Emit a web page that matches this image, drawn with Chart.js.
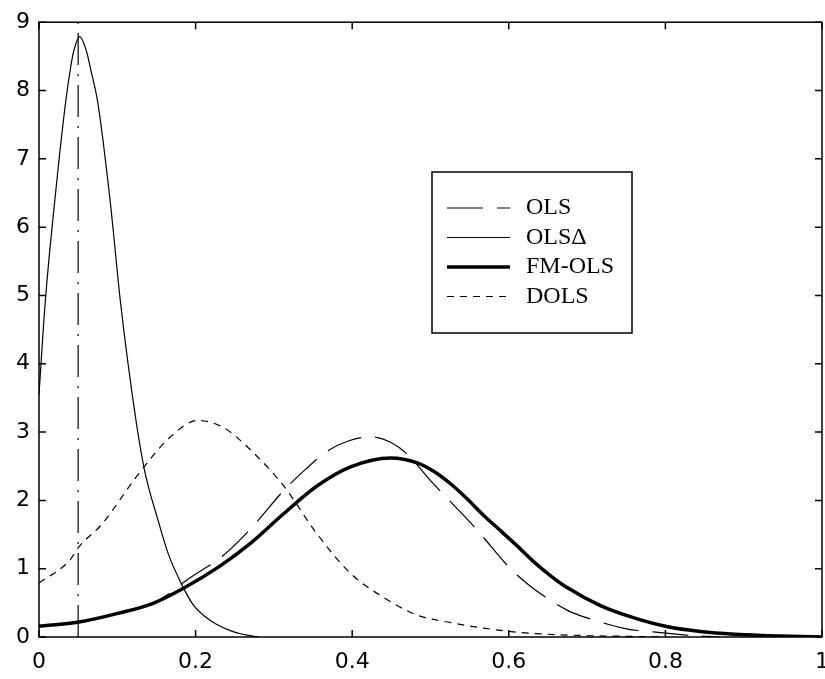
<!DOCTYPE html>
<html lang="en">
<head>
<meta charset="UTF-8">
<title>OLS, OLSΔ, FM-OLS and DOLS densities</title>
<style>
    html, body { margin: 0; padding: 0; background: #fff; }
    #wrap { width: 825px; height: 679px; }
</style>
</head>
<body>
<div id="wrap"><canvas id="densityChart"></canvas></div>

<script src="https://cdn.jsdelivr.net/npm/chart.js"></script>
<script>
    // values
    const olsX = [0, 0.05, 0.1, 0.15, 0.192, 0.235, 0.27, 0.313, 0.34, 0.368, 0.395, 0.423, 0.449, 0.47, 0.5, 0.534, 0.56, 0.602, 0.628, 0.653, 0.675, 0.7, 0.75, 0.78, 0.824, 0.87];
    const olsY = [0.16, 0.22, 0.35, 0.52, 0.86, 1.19, 1.58, 2.15, 2.45, 2.72, 2.87, 2.93, 2.85, 2.68, 2.29, 1.88, 1.56, 1.0, 0.74, 0.54, 0.39, 0.28, 0.12, 0.08, 0.03, 0.0];

    const olsDeltaX = [0, 0.008, 0.02, 0.034, 0.04, 0.044, 0.052, 0.061, 0.066, 0.075, 0.091, 0.104, 0.124, 0.135, 0.152, 0.165, 0.184, 0.197, 0.212, 0.226, 0.245, 0.26, 0.28];
    const olsDeltaY = [3.55, 4.91, 6.37, 7.83, 8.31, 8.56, 8.79, 8.56, 8.31, 7.83, 6.37, 4.91, 3.16, 2.43, 1.71, 1.22, 0.73, 0.47, 0.3, 0.19, 0.09, 0.04, 0.0];

    const fmolsX = [0, 0.051, 0.102, 0.145, 0.184, 0.23, 0.27, 0.312, 0.355, 0.398, 0.449, 0.483, 0.505, 0.526, 0.547, 0.568, 0.59, 0.611, 0.632, 0.653, 0.675, 0.717, 0.76, 0.803, 0.845, 0.888, 0.93, 0.96, 1.0];
    const fmolsY = [0.16, 0.22, 0.35, 0.49, 0.71, 1.03, 1.37, 1.8, 2.21, 2.49, 2.62, 2.55, 2.42, 2.24, 2.02, 1.78, 1.55, 1.33, 1.1, 0.9, 0.72, 0.46, 0.28, 0.15, 0.08, 0.04, 0.02, 0.01, 0.0];

    const dolsX = [0, 0.039, 0.051, 0.081, 0.124, 0.167, 0.203, 0.235, 0.27, 0.312, 0.355, 0.398, 0.44, 0.483, 0.526, 0.568, 0.611, 0.65, 0.7, 0.75, 0.8];
    const dolsY = [0.79, 1.12, 1.32, 1.66, 2.34, 2.92, 3.17, 3.07, 2.74, 2.22, 1.51, 0.93, 0.58, 0.32, 0.21, 0.13, 0.07, 0.04, 0.02, 0.01, 0.0];

    const markerX = 0.05;          // dash-dot vertical line
    const markerY = [0, 9];

    const labels = ['OLS', 'OLSΔ', 'FM-OLS', 'DOLS'];
    const xTicks = [0, 0.2, 0.4, 0.6, 0.8, 1];
    const yTicks = [0, 1, 2, 3, 4, 5, 6, 7, 8, 9];

    function pairs(xs, ys) {
        return xs.map((x, i) => ({ x: x, y: ys[i] }));
    }

    function curve(label, xs, ys, width, dash) {
        return {
            label: label,
            data: pairs(xs, ys),
            borderColor: '#000',
            borderWidth: width,
            borderDash: dash,
            pointRadius: 0,
            fill: false,
            tension: 0.4,
            cubicInterpolationMode: 'monotone'
        };
    }

    // box frame plus inward tick marks on all four sides
    const framePlugin = {
        id: 'frame',
        afterDatasetsDraw(chart) {
            const { ctx, chartArea: a, scales: { x, y } } = chart;
            ctx.save();
            ctx.strokeStyle = '#000';
            ctx.lineWidth = 1.5;
            ctx.setLineDash([]);
            ctx.strokeRect(a.left, a.top, a.right - a.left, a.bottom - a.top);
            ctx.beginPath();
            x.ticks.forEach(t => {
                const px = x.getPixelForValue(t.value);
                ctx.moveTo(px, a.bottom); ctx.lineTo(px, a.bottom - 7);
                ctx.moveTo(px, a.top); ctx.lineTo(px, a.top + 7);
            });
            y.ticks.forEach(t => {
                const py = y.getPixelForValue(t.value);
                ctx.moveTo(a.left, py); ctx.lineTo(a.left + 7, py);
                ctx.moveTo(a.right, py); ctx.lineTo(a.right - 7, py);
            });
            ctx.stroke();
            ctx.restore();
        }
    };

    // boxed legend like the original
    const legendBox = {
        id: 'legendBox',
        afterDraw(chart) {
            const ctx = chart.ctx;
            const items = chart.data.datasets.filter(d => d.label);
            const left = 432, top = 172, width = 200, height = 161;
            const textX = 526, rowH = 29.5;
            ctx.save();
            ctx.fillStyle = '#fff';
            ctx.fillRect(left, top, width, height);
            ctx.strokeStyle = '#000';
            ctx.lineWidth = 1.5;
            ctx.strokeRect(left, top, width, height);
            ctx.font = '24px "Liberation Serif"';
            items.forEach((d, i) => {
                const yy = top + 36 + i * rowH;
                ctx.beginPath();
                ctx.setLineDash(d.borderDash || []);
                ctx.lineWidth = d.borderWidth;
                ctx.moveTo(447, yy);
                ctx.lineTo(510, yy);
                ctx.stroke();
                ctx.setLineDash([]);
                ctx.fillStyle = '#000';
                ctx.textBaseline = 'middle';
                ctx.fillText(d.label, textX, yy);
            });
            ctx.restore();
        }
    };

    const ctx = document.getElementById('densityChart').getContext('2d');
    new Chart(ctx, {
        type: 'line',
        data: {
            datasets: [
                curve(labels[0], olsX, olsY, 1.2, [36, 14]),
                curve(labels[1], olsDeltaX, olsDeltaY, 1.2, []),
                curve(labels[2], fmolsX, fmolsY, 3.5, []),
                curve(labels[3], dolsX, dolsY, 1.2, [7, 6]),
                {
                    label: '',
                    data: markerY.map(v => ({ x: markerX, y: v })),
                    borderColor: '#000',
                    borderWidth: 1.2,
                    borderDash: [32, 9, 2, 9],
                    pointRadius: 0,
                    tension: 0
                }
            ]
        },
        options: {
            responsive: true,
            maintainAspectRatio: false,
            animation: false,
            layout: { padding: { top: 20, right: 3, left: 0, bottom: 0 } },
            plugins: {
                legend: { display: false },
                tooltip: { enabled: false }
            },
            scales: {
                x: {
                    type: 'linear',
                    min: 0,
                    max: 1,
                    grid: { display: false, drawTicks: false },
                    border: { display: false },
                    afterBuildTicks: s => { s.ticks = xTicks.map(v => ({ value: v })); },
                    afterFit: s => { s.height = 42; s.paddingLeft = 0; s.paddingRight = 0; },
                    ticks: {
                        padding: 12,
                        maxRotation: 0,
                        color: '#000',
                        font: { family: 'DejaVu Sans', size: 22 },
                        callback: v => String(+v.toFixed(1))
                    }
                },
                y: {
                    min: 0,
                    max: 9,
                    grid: { display: false, drawTicks: false },
                    border: { display: false },
                    afterBuildTicks: s => { s.ticks = yTicks.map(v => ({ value: v })); },
                    afterFit: s => { s.width = 39; },
                    ticks: {
                        padding: 9,
                        color: '#000',
                        font: { family: 'DejaVu Sans', size: 22 },
                        callback: v => String(v)
                    }
                }
            }
        },
        plugins: [framePlugin, legendBox]
    });
</script>
</body>
</html>
